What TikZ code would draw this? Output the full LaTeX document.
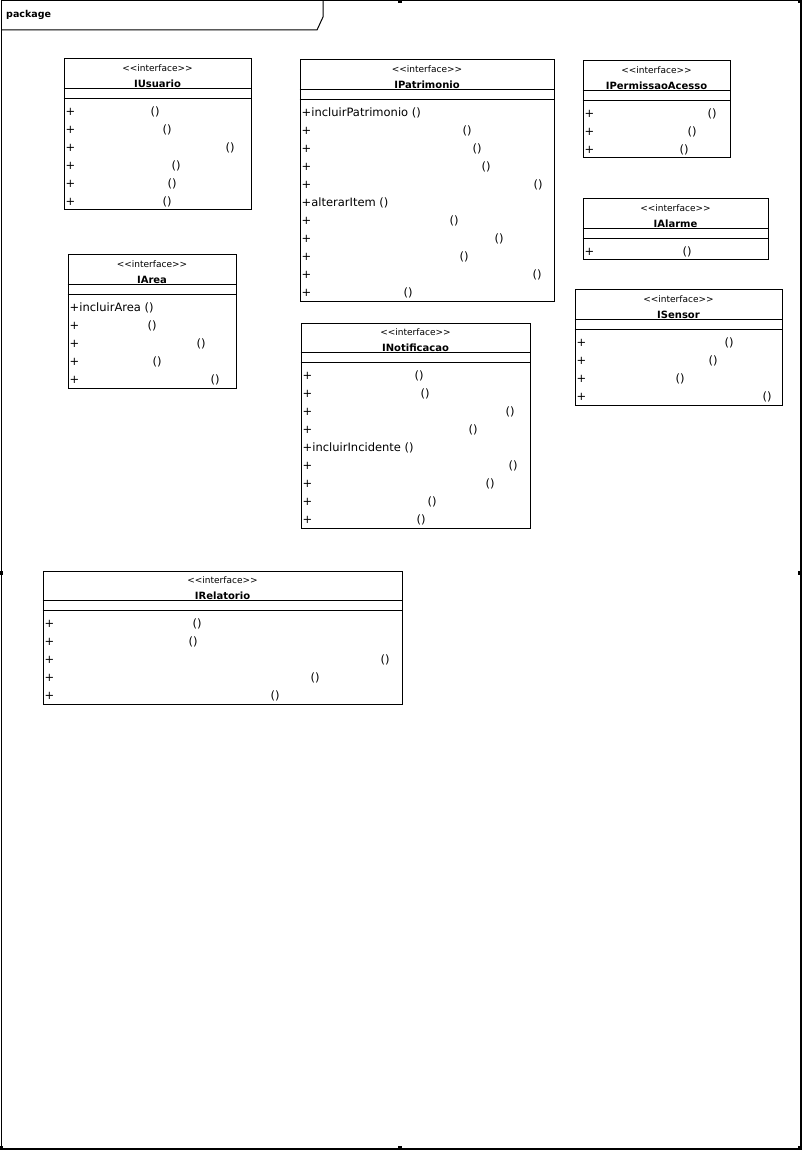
\documentclass[tikz,border=0pt]{standalone}
\usepackage{fontspec}
\setmainfont{DejaVu Sans}
\usetikzlibrary{calc,fit}

\tikzset{
  umlbox/.style={draw, line width=1pt, inner sep=0pt},
  sepline/.style={line width=1pt},
  stereo/.style={font=\fontsize{9}{10}\selectfont, inner sep=0pt},
  ifname/.style={font=\fontsize{10}{12}\selectfont\bfseries, inner sep=0pt},
  opline/.style={font=\fontsize{11.5}{12}\selectfont, inner sep=0pt},
  handle/.style={fill=black, minimum size=4pt, inner sep=0pt},
  frameline/.style={line width=1pt},
}

% interface box: name, left, top, right, bottom, title
\newcommand\iface[6]{%
  \node[umlbox, fit={(#2,#3) (#4,#5)}] (#1) {};
  \draw[sepline] ($(#1.north west)+(0,30)$) -- ($(#1.north east)+(0,30)$);
  \draw[sepline] ($(#1.north west)+(0,40)$) -- ($(#1.north east)+(0,40)$);
  \node[stereo] (#1-st) at ($(#1.north)+(0,10)$) {<{}<interface>{}>};
  \node[ifname] (#1-nm) at ($(#1.north)+(0,25)$) {#6};
}
% operation row with blank name: box, row number, x of the parentheses
\newcommand\opblank[3]{%
  \coordinate (#1-#2r) at ($(#1.north west)+(2,{54.5+18*(#2-1)})$);
  \node[opline, anchor=mid west] (#1-#2) at (#1-#2r) {+};
  \coordinate (#1-#2x) at (#3,0);
  \node[opline, anchor=mid] (#1-#2p) at (#1-#2r -| #1-#2x) {()};
}
% operation row with a written name: box, row number, text
\newcommand\opnamed[3]{%
  \coordinate (#1-#2r) at ($(#1.north west)+(2,{54.5+18*(#2-1)})$);
  \node[opline, anchor=mid west] (#1-#2) at (#1-#2r) {#3};
}

\begin{document}
\begin{tikzpicture}[x=1pt, y=-1pt]
\useasboundingbox (0,0) rectangle (807,1155);

% package frame
\node[draw, frameline, fit={(1,1) (800,1148)}, inner sep=0pt] (pkg) {};
\draw[line width=2pt] (pkg.north east) -- (pkg.south east) -- (pkg.south west);
\coordinate (tabA) at (323,1);
\coordinate (tabB) at (323,17);
\coordinate (tabC) at (317,30);
\coordinate (tabD) at (1,30);
\draw[frameline] (tabA) -- (tabB) -- (tabC) -- (tabD);
\node[font=\fontsize{9.5}{11}\selectfont\bfseries, anchor=mid west, inner sep=0pt] (pkglabel) at (6,15) {package};

% selection handles
\foreach \hx/\hy [count=\k] in {400/1, 800/1, 1/573, 800/573, 1/1148, 400/1148, 800/1148}
  \node[handle] (h\k) at (\hx,\hy) {};

% IUsuario
\iface{iusuario}{64}{59}{251}{210}{IUsuario}
\opblank{iusuario}{1}{155}
\opblank{iusuario}{2}{167}
\opblank{iusuario}{3}{230}
\opblank{iusuario}{4}{176}
\opblank{iusuario}{5}{172}
\opblank{iusuario}{6}{167}

% IPatrimonio
\iface{ipatrimonio}{300}{60}{554}{301}{IPatrimonio}
\opnamed{ipatrimonio}{1}{+incluirPatrimonio ()}
\opblank{ipatrimonio}{2}{467}
\opblank{ipatrimonio}{3}{477}
\opblank{ipatrimonio}{4}{486}
\opblank{ipatrimonio}{5}{538}
\opnamed{ipatrimonio}{6}{+alterarItem ()}
\opblank{ipatrimonio}{7}{454}
\opblank{ipatrimonio}{8}{499}
\opblank{ipatrimonio}{9}{464}
\opblank{ipatrimonio}{10}{537}
\opblank{ipatrimonio}{11}{408}

% IPermissaoAcesso
\iface{ipermissao}{583}{61}{730}{158}{IPermissaoAcesso}
\opblank{ipermissao}{1}{712}
\opblank{ipermissao}{2}{692}
\opblank{ipermissao}{3}{684}

% IAlarme
\iface{ialarme}{583}{199}{768}{260}{IAlarme}
\opblank{ialarme}{1}{687}

% IArea
\iface{iarea}{68}{255}{236}{388}{IArea}
\opnamed{iarea}{1}{+incluirArea ()}
\opblank{iarea}{2}{152}
\opblank{iarea}{3}{201}
\opblank{iarea}{4}{157}
\opblank{iarea}{5}{215}

% INotificacao
\iface{inotificacao}{301}{323}{530}{528}{INotificacao}
\opblank{inotificacao}{1}{419}
\opblank{inotificacao}{2}{425}
\opblank{inotificacao}{3}{510}
\opblank{inotificacao}{4}{473}
\opnamed{inotificacao}{5}{+incluirIncidente ()}
\opblank{inotificacao}{6}{513}
\opblank{inotificacao}{7}{490}
\opblank{inotificacao}{8}{432}
\opblank{inotificacao}{9}{421}

% ISensor
\iface{isensor}{575}{290}{782}{405}{ISensor}
\opblank{isensor}{1}{729}
\opblank{isensor}{2}{713}
\opblank{isensor}{3}{680}
\opblank{isensor}{4}{767}

% IRelatorio
\iface{irelatorio}{43}{571}{402}{704}{IRelatorio}
\opblank{irelatorio}{1}{197}
\opblank{irelatorio}{2}{193}
\opblank{irelatorio}{3}{385}
\opblank{irelatorio}{4}{315}
\opblank{irelatorio}{5}{275}

\end{tikzpicture}
\end{document}
